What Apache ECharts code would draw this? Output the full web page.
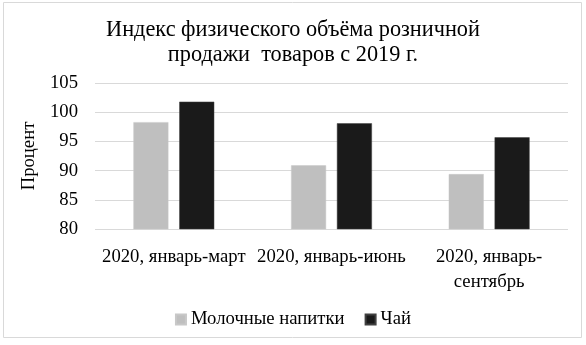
<!DOCTYPE html>
<html>
<head>
<meta charset="utf-8">
<script src="https://cdn.jsdelivr.net/npm/echarts@6/dist/echarts.min.js"></script>
<style>
  html, body { margin: 0; padding: 0; background: #fff; }
  #main { width: 586px; height: 345px; }
</style>
</head>
<body>
<div id="main"></div>
<script>
var categories = ['2020, январь-март', '2020, январь-июнь', '2020, январь-\nсентябрь'];
var seriesNames = ['Молочные напитки', 'Чай'];
var milkValues = [98.3, 90.9, 89.4];
var teaValues = [101.8, 98.1, 95.7];

var serif = '"Liberation Serif", "DejaVu Serif", serif';
var myChart = echarts.init(document.getElementById('main'));
var option = {
    animation: false,
    color: ['#bfbfbf', '#1a1a1a'],
    title: {
        text: 'Индекс физического объёма розничной\nпродажи  товаров с 2019 г.',
        left: 'center',
        top: 13,
        textStyle: { fontFamily: serif, fontSize: 22.3, fontWeight: 'normal', color: '#000', lineHeight: 25 }
    },
    legend: {
        top: 305,
        left: 'center',
        itemWidth: 10,
        itemHeight: 10,
        itemGap: 20,
        icon: 'rect',
        textStyle: { fontFamily: serif, fontSize: 18.7, color: '#000' },
        data: seriesNames
    },
    grid: { left: 95, right: 18, top: 83, bottom: 116 },
    xAxis: {
        type: 'category',
        data: categories,
        axisLine: { show: false },
        axisTick: { show: false },
        axisLabel: { fontFamily: serif, fontSize: 18.7, color: '#000', margin: 16, lineHeight: 25, interval: 0 }
    },
    yAxis: {
        type: 'value',
        min: 80,
        max: 105,
        interval: 5,
        name: 'Процент',
        nameLocation: 'middle',
        nameGap: 56,
        nameTextStyle: { fontFamily: serif, fontSize: 18.7, color: '#000' },
        axisLabel: { fontFamily: serif, fontSize: 18.7, color: '#000', margin: 17 },
        splitLine: { lineStyle: { color: '#d9d9d9', width: 1 } }
    },
    graphic: [{
        type: 'rect',
        shape: { x: 3.5, y: 2.5, width: 578, height: 335 },
        style: { fill: null, stroke: '#d9d9d9', lineWidth: 1 },
        silent: true
    }],
    series: [
        {
            name: seriesNames[0],
            type: 'bar',
            barWidth: 35,
            barGap: '31%',
            itemStyle: { borderColor: '#c8c8c8', borderWidth: 0.5 },
            data: milkValues
        },
        {
            name: seriesNames[1],
            type: 'bar',
            barWidth: 35,
            itemStyle: { borderColor: '#404040', borderWidth: 0.5 },
            data: teaValues
        }
    ]
};
myChart.setOption(option);
</script>
</body>
</html>
